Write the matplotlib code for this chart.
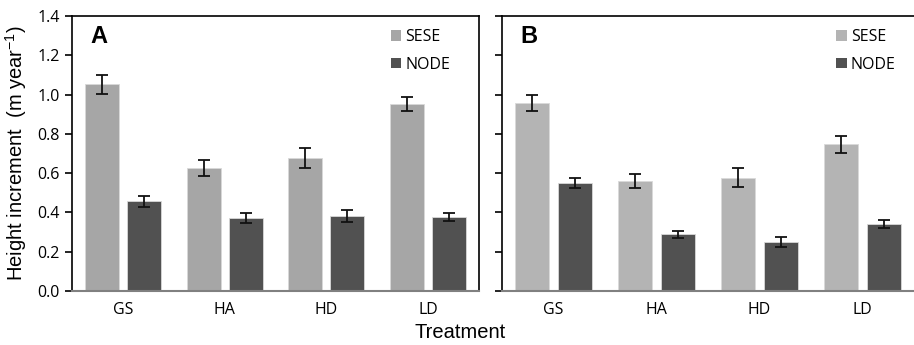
import matplotlib
matplotlib.use("Agg")
import matplotlib.pyplot as plt
import numpy as np

treatments = ["GS", "HA", "HD", "LD"]

# panel A
a_sese = [1.052, 0.627, 0.678, 0.953]
a_sese_err = [0.048, 0.040, 0.050, 0.037]
a_node = [0.456, 0.372, 0.381, 0.377]
a_node_err = [0.027, 0.025, 0.029, 0.022]

# panel B
b_sese = [0.955, 0.559, 0.576, 0.746]
b_sese_err = [0.041, 0.036, 0.048, 0.043]
b_node = [0.549, 0.289, 0.248, 0.341]
b_node_err = [0.025, 0.019, 0.026, 0.020]

yticks = [0.0, 0.2, 0.4, 0.6, 0.8, 1.0, 1.2, 1.4]

tick_font = "Open Sans"
lab_font = "Liberation Sans"

fig = plt.figure(figsize=(9.14, 3.45), dpi=100)
axA = fig.add_axes([0.0788, 0.1565, 0.4452, 0.7971])
axB = fig.add_axes([0.5492, 0.1565, 0.4508, 0.7971])

x = np.arange(len(treatments))
w = 0.335
off = 0.207


def panel(ax, sese, sese_err, node, node_err, sese_col, letter, show_labels, right_spine, leg_x):
    ax.bar(x - off, sese, w, color=sese_col, edgecolor="#d9d9d9", linewidth=0.6,
           yerr=sese_err, error_kw=dict(ecolor="#111111", elinewidth=1.3, capsize=4, capthick=1.3),
           label="SESE", zorder=2)
    ax.bar(x + off, node, w, color="#515151", edgecolor="#d9d9d9", linewidth=0.6,
           yerr=node_err, error_kw=dict(ecolor="#111111", elinewidth=1.3, capsize=4, capthick=1.3),
           label="NODE", zorder=2)
    ax.set_xlim(-0.5, 3.5)
    ax.set_ylim(0, 1.4)
    ax.set_yticks(yticks)
    if show_labels:
        ax.set_yticklabels([f"{v:.1f}" for v in yticks], fontsize=11.5, family=tick_font)
    else:
        ax.set_yticklabels([])
    ax.set_xticks(x)
    ax.set_xticklabels(treatments, fontsize=11.5, family=tick_font)
    ax.tick_params(axis="x", length=0, pad=8)
    ax.tick_params(axis="y", direction="out", length=5, width=1.2, pad=4)
    for s in ["left", "top", "right"]:
        ax.spines[s].set_color("black")
        ax.spines[s].set_linewidth(1.2)
    ax.spines["bottom"].set_color("#808080")
    ax.spines["bottom"].set_linewidth(1.5)
    ax.spines["right"].set_visible(right_spine)
    ax.text(0.045, 0.925, letter, transform=ax.transAxes, fontsize=17, fontweight="bold",
            family=lab_font, va="center", ha="left")
    leg = ax.legend(loc="upper right", bbox_to_anchor=(leg_x, 1.005), frameon=False,
                    prop={"family": tick_font, "size": 11.5}, handlelength=0.65, handleheight=0.65,
                    handletextpad=0.25, labelspacing=0.72)
    for h in leg.legend_handles:
        h.set_edgecolor("none")


panel(axA, a_sese, a_sese_err, a_node, a_node_err, "#a6a6a6", "A", True, True, 0.965)
panel(axB, b_sese, b_sese_err, b_node, b_node_err, "#b4b4b4", "B", False, False, 0.99)

axA.set_ylabel("Height increment  (m year$^{\\mathregular{-1}}$)", fontsize=14.5, family=lab_font, labelpad=6)
fig.text(0.503, 0.035, "Treatment", fontsize=14.5, family=lab_font, ha="center", va="center")

fig.savefig("out.png", dpi=100)
